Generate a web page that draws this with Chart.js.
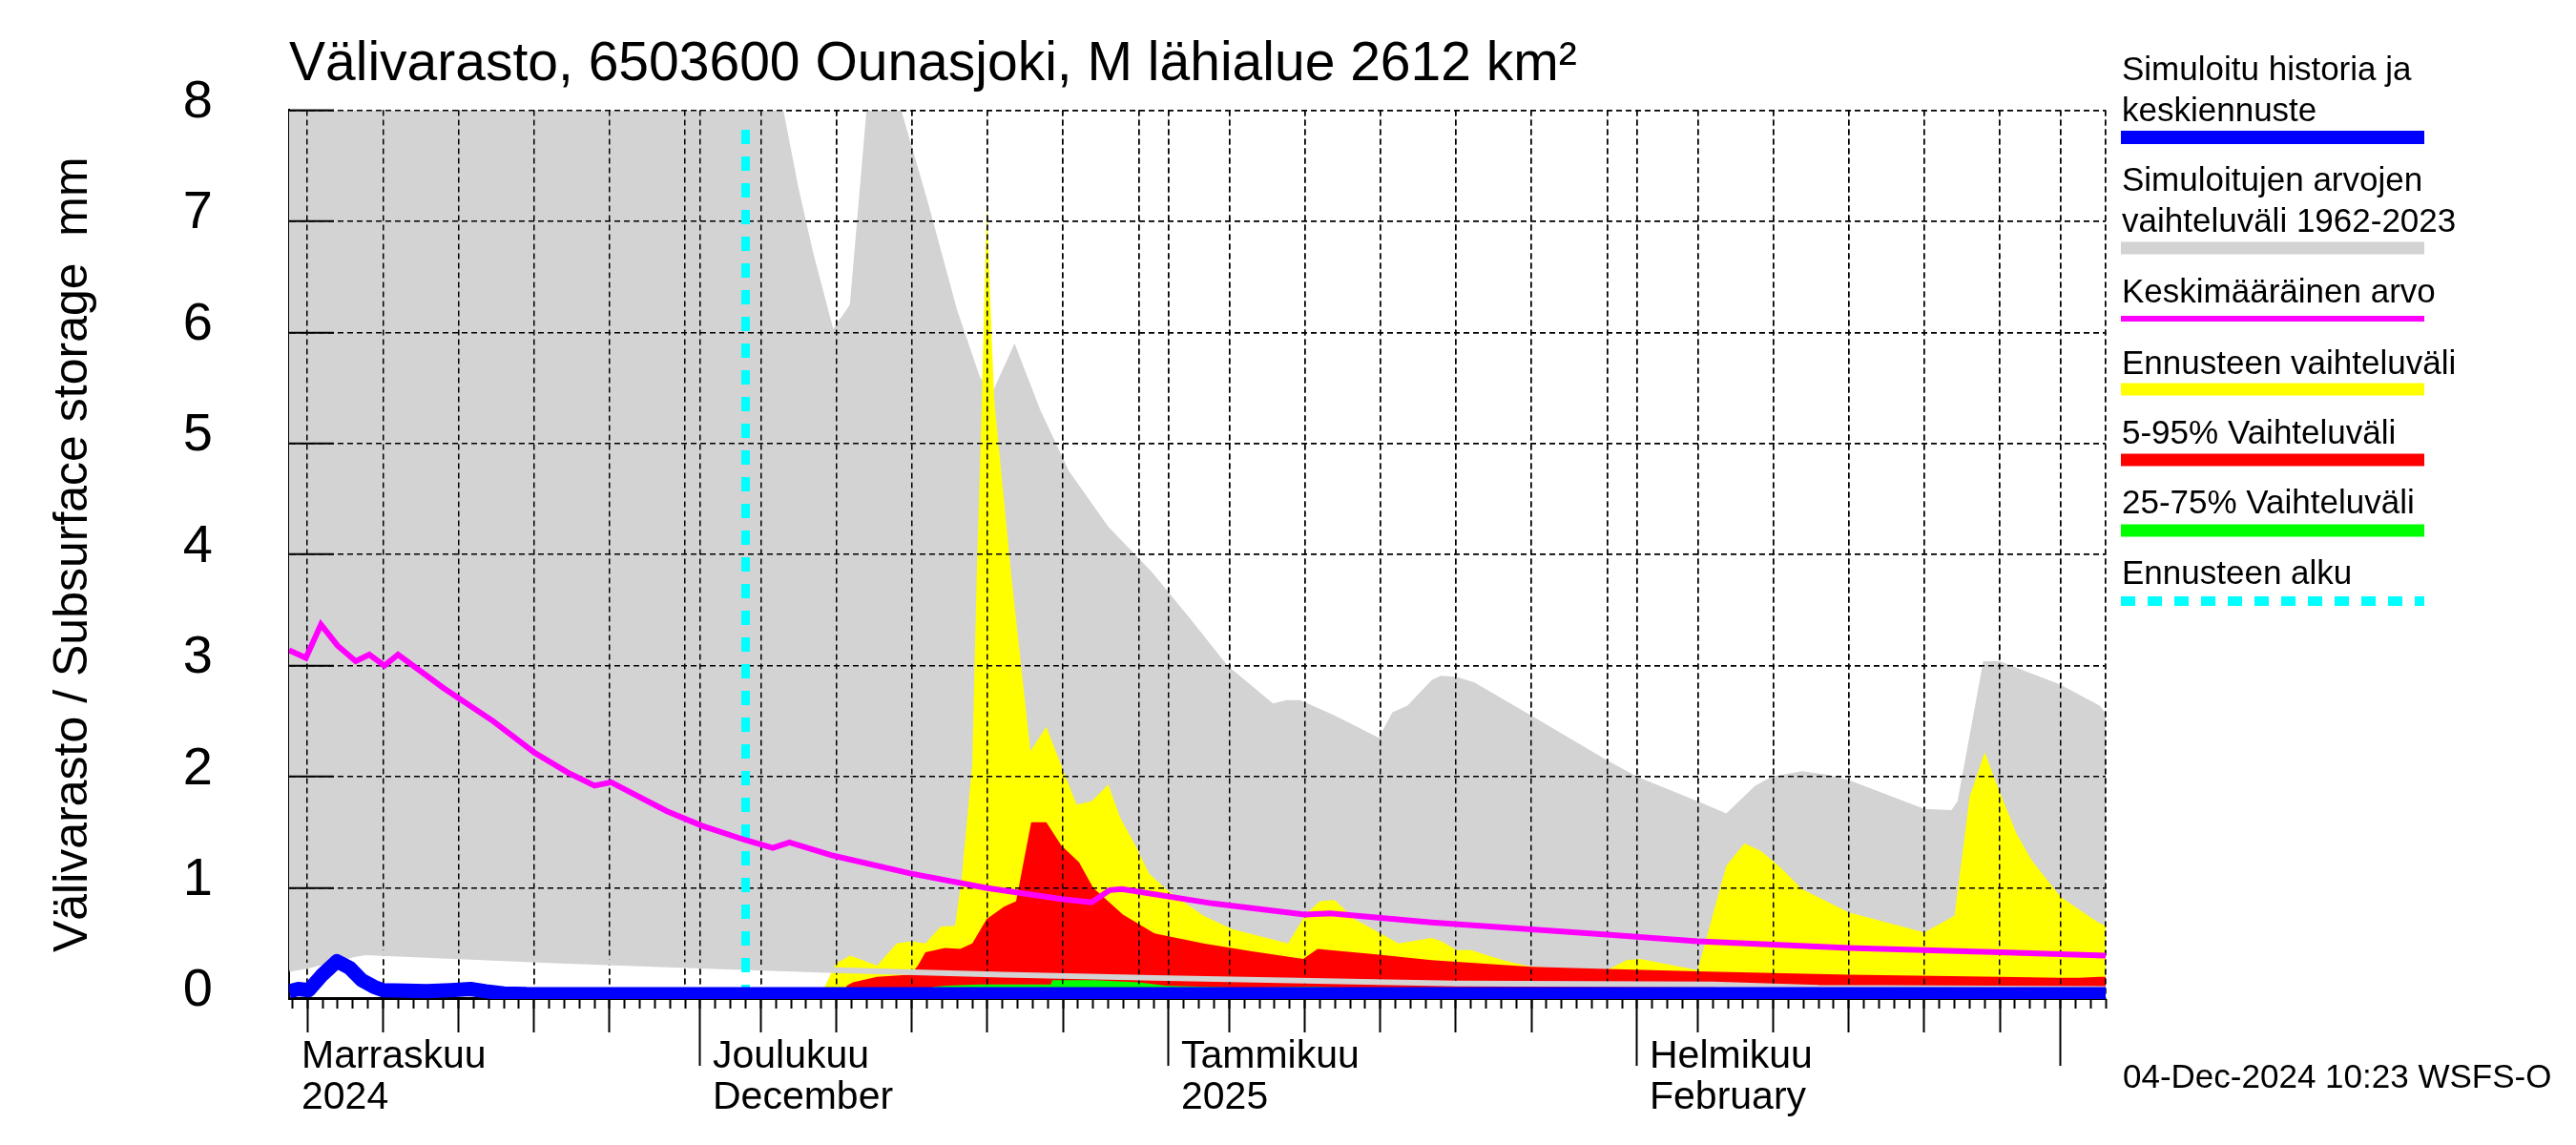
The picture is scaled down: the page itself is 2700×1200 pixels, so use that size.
<!DOCTYPE html>
<html>
<head>
<meta charset="utf-8">
<script src="https://cdn.jsdelivr.net/npm/chart.js@4.4.0/dist/chart.umd.min.js"></script>
<style>
body{margin:0;background:#fff}
canvas{display:block}
</style>
</head>
<body>
<canvas id="kaavio" width="2700" height="1200"></canvas>
<script>
// x = päiviä 1.11.2024 alusta (0 = 1. marraskuuta)
const xMin = 2.79, xMax = 123
const kuunAlut = [30, 61, 92, 120]
const ruudukko = [4,9,14,19,24,29,30,34,39,44,49,54,59,61,65,70,75,80,85,90,92,96,101,106,111,116,120,123]
const keskiTikit = [4,9,14,19,24,34,39,44,49,54,65,70,75,80,85,96,101,106,111,116]
const kuuTekstiX = [2.79, 30, 61, 92]
const kuuTekstit = [['Marraskuu','2024'],['Joulukuu','December'],['Tammikuu','2025'],['Helmikuu','February']]

const harmaaYlaX = [2.79,35.5,36.5,37.5,38.8,39.9,41.0,42.0,43.3,45.0,47.0,48.5,49.3,50.8,52.5,54.4,57.0,59.9,62.5,64.9,67.9,68.8,69.7,72.0,74.9,75.8,76.8,78.4,79.0,80.0,81.2,85.0,90.0,92.0,96.0,97.9,99.8,100.9,102.9,104.5,106.0,111.0,112.8,113.2,114.9,116.0,120.0,122.6,123]
const harmaaYlaY = [9,8.0,7.3,6.7,6.03,6.25,8.0,8.5,8.0,7.2,6.2,5.6,5.45,5.9,5.3,4.75,4.25,3.84,3.41,3.0,2.66,2.69,2.69,2.55,2.35,2.58,2.64,2.87,2.91,2.90,2.85,2.55,2.15,2.0,1.78,1.67,1.92,2.0,2.05,2.02,1.97,1.71,1.70,1.78,3.04,3.04,2.83,2.64,2.57]
const harmaaAlaX = [2.79,4,5.5,7,7.8,20,30,38.9,50,60,80,97,104,123]
const harmaaAlaY = [0.27,0.30,0.35,0.40,0.42,0.35,0.30,0.26,0.22,0.19,0.14,0.13,0.10,0.09]

const keltYlaX = [38.05,38.2,38.97,39.93,41.7,43.0,43.96,44.9,45.9,46.86,47.3,48.0,48.3,48.6,48.95,49.45,50.56,51.85,52.9,54.9,55.9,57.0,57.8,58.8,59.7,60.9,63.3,65.2,68.9,70.05,71.0,71.98,73.3,74.9,76.2,78.4,79.05,80.05,81.0,83.1,85.0,90.0,91.3,92.2,96.0,97.9,99.1,100.2,101.5,102.9,106.0,111.0,113.0,114.0,115.0,116.0,117.1,118.1,120.0,122.5,123]
const keltYlaY = [0.05,0.10,0.32,0.39,0.30,0.50,0.52,0.50,0.65,0.66,1.09,2.12,3.84,5.2,7.14,5.4,3.84,2.23,2.45,1.75,1.78,1.93,1.63,1.38,1.13,0.98,0.75,0.63,0.50,0.76,0.88,0.89,0.72,0.60,0.50,0.55,0.52,0.44,0.44,0.35,0.29,0.26,0.35,0.36,0.26,1.20,1.40,1.33,1.18,0.99,0.78,0.60,0.75,1.82,2.22,1.86,1.49,1.25,0.92,0.69,0.66]
const keltAlaX = [38.05,123]
const keltAlaY = [0.05,0.05]

const punYlaX = [39.5,39.7,40.1,41.7,43.9,44.4,44.9,46.2,47.2,48.0,48.95,50.1,50.9,51.0,51.9,52.9,53.9,55.07,56.0,57.97,60.06,63.3,66.5,69.9,70.85,74.9,78.4,85,90,96,106,116,120,121.2,122.6,123]
const punYlaY = [0.05,0.12,0.15,0.20,0.22,0.30,0.42,0.46,0.45,0.50,0.72,0.83,0.88,0.95,1.59,1.59,1.38,1.23,1.00,0.76,0.59,0.50,0.43,0.36,0.45,0.40,0.35,0.29,0.27,0.25,0.22,0.20,0.19,0.19,0.20,0.20]
const punAlaX = [39.5,123]
const punAlaY = [0.05,0.05]

const vihrYlaX = [45.0,45.4,46.3,48.5,53.2,53.3,56.1,59.0,60.8,65.8,70.6,72.9,74.0]
const vihrYlaY = [0.05,0.11,0.12,0.13,0.13,0.17,0.17,0.15,0.12,0.10,0.11,0.10,0.05]
const vihrAlaX = [45.0,74.0]
const vihrAlaY = [0.05,0.05]

const keskiX = [2.79,3.9,4.9,6.0,7.2,8.1,9.1,10.0,13.0,16.3,19.0,21.2,23.0,24.1,27.8,30.1,33.0,34.8,35.9,38.8,43.9,48.9,53.9,55.9,57.1,57.9,63.9,70.0,71.7,78.4,90,96,106,116,123]
const keskiY = [3.14,3.07,3.37,3.18,3.04,3.10,3.00,3.10,2.80,2.50,2.22,2.04,1.92,1.95,1.69,1.56,1.43,1.36,1.41,1.29,1.13,1.00,0.90,0.87,0.98,0.99,0.86,0.76,0.77,0.69,0.58,0.52,0.46,0.42,0.39]

const simX = [2.79,3.4,4.1,5.0,5.95,6.8,7.6,8.4,9.0,10.5,11.9,13.5,14.8,15.8,17.0,18.5,123]
const simY = [0.07,0.09,0.08,0.22,0.34,0.28,0.17,0.11,0.08,0.075,0.07,0.08,0.09,0.07,0.05,0.045,0.043]

const havX = [2.79,19.6]
const havY = [0,0]

const alkuX = [33,33]
const alkuY = [0,7.9]

const selitteet = [
    {rivit:['Simuloitu historia ja','keskiennuste'], vari:'#0000ff'},
    {rivit:['Simuloitujen arvojen','vaihteluväli 1962-2023'], vari:'#d3d3d3'},
    {rivit:['Keskimääräinen arvo'], vari:'#ff00ff'},
    {rivit:['Ennusteen vaihteluväli'], vari:'#ffff00'},
    {rivit:['5-95% Vaihteluväli'], vari:'#ff0000'},
    {rivit:['25-75% Vaihteluväli'], vari:'#00ff00'},
    {rivit:['Ennusteen alku'], vari:'#00ffff'}
]

const pts = (xs, ys) => xs.map((x, i) => ({x: x, y: ys[i]}))
const paivaTikit = []
for (let d = Math.ceil(xMin); d <= xMax; d++) paivaTikit.push(d)

Chart.defaults.font.family = '"Liberation Sans", Arial, sans-serif'
Chart.defaults.color = '#000'
Chart.defaults.elements.point.radius = 0

const ei = 'rgba(0,0,0,0)'

// ruudukko piirretään uudelleen vaihteluvälien päälle
const ruudukkoPaalle = {
    id: 'ruudukkoPaalle',
    beforeDatasetDraw(chart, args) {
        if (args.index !== 1) return
        chart.scales.x.drawGrid(chart.chartArea)
        chart.scales.y.drawGrid(chart.chartArea)
    }
}

const selite = {
    id: 'selite',
    afterDraw(chart) {
        const c = chart.ctx
        const rivit = [[84,127],[200,243],[317],[392],[465],[538],[612]]
        const viivat = [144,260,334,408,482,556,630]
        const leveydet = [14,13,6,13,13,13,10]
        c.save()
        c.font = '35px "Liberation Sans", Arial, sans-serif'
        c.fillStyle = '#000'
        c.textBaseline = 'alphabetic'
        c.textAlign = 'left'
        selitteet.forEach((s, i) => {
            s.rivit.forEach((r, j) => c.fillText(r, 2224, rivit[i][j]))
            c.beginPath()
            c.strokeStyle = s.vari
            c.lineWidth = leveydet[i]
            c.setLineDash(i === 6 ? [15,13] : [])
            c.moveTo(2223, viivat[i])
            c.lineTo(2541, viivat[i])
            c.stroke()
        })
        c.setLineDash([])
        c.fillText('04-Dec-2024 10:23 WSFS-O', 2225, 1140)
        c.restore()
    }
}

const eiReunoja = s => { s.paddingTop = 0; s.paddingBottom = 0; s.paddingLeft = 0; s.paddingRight = 0 }

const tikkiAkseli = (arvot, pituus) => ({
    type: 'linear', min: xMin, max: xMax, position: {y: 0},
    afterBuildTicks: s => { s.ticks = arvot.map(v => ({value: v})) },
    ticks: {display: false, autoSkip: false},
    grid: {drawOnChartArea: false, tickLength: pituus, tickColor: '#000', tickWidth: 2, color: '#000'},
    border: {display: false},
    afterFit: eiReunoja
})

new Chart(document.getElementById('kaavio'), {
    type: 'line',
    data: {
        datasets: [
            {data: pts(harmaaYlaX, harmaaYlaY), fill: 1, backgroundColor: '#d3d3d3', borderColor: ei, borderWidth: 0, order: 100},
            {data: pts(harmaaAlaX, harmaaAlaY), fill: false, borderColor: '#d3d3d3', borderWidth: 6, order: 60},
            {data: pts(keltYlaX, keltYlaY), fill: 3, backgroundColor: '#ffff00', borderColor: ei, borderWidth: 0, order: 90},
            {data: pts(keltAlaX, keltAlaY), fill: false, borderColor: ei, borderWidth: 0, order: 91},
            {data: pts(punYlaX, punYlaY), fill: 5, backgroundColor: '#ff0000', borderColor: ei, borderWidth: 0, order: 80},
            {data: pts(punAlaX, punAlaY), fill: false, borderColor: ei, borderWidth: 0, order: 81},
            {data: pts(vihrYlaX, vihrYlaY), fill: 7, backgroundColor: '#00ff00', borderColor: ei, borderWidth: 0, order: 70},
            {data: pts(vihrAlaX, vihrAlaY), fill: false, borderColor: ei, borderWidth: 0, order: 71},
            {data: pts(havX, havY), fill: false, borderColor: '#000', borderWidth: 4, order: 56},
            {data: pts(alkuX, alkuY), fill: false, borderColor: '#00ffff', borderWidth: 9, borderDash: [15,13], borderCapStyle: 'butt', order: 55},
            {data: pts(keskiX, keskiY), fill: false, borderColor: '#ff00ff', borderWidth: 6, order: 50},
            {data: pts(simX, simY), fill: false, borderColor: '#0000ff', borderWidth: 15, borderJoinStyle: 'round', order: 40}
        ]
    },
    options: {
        responsive: false,
        animation: false,
        devicePixelRatio: 1,
        layout: {padding: {left: 0, right: 493, top: 0, bottom: 0}},
        plugins: {
            legend: {display: false},
            tooltip: {enabled: false},
            title: {
                display: true,
                text: 'Välivarasto, 6503600 Ounasjoki, M lähialue 2612 km²',
                align: 'start',
                fullSize: false,
                color: '#000',
                font: {size: 57, weight: 'normal'},
                padding: {top: 34, bottom: 13}
            }
        },
        scales: {
            x: {
                type: 'linear', min: xMin, max: xMax, position: 'bottom', weight: 0,
                afterBuildTicks: s => { s.ticks = ruudukko.map(v => ({value: v})) },
                ticks: {display: false, autoSkip: false},
                grid: {color: '#000', lineWidth: 1.5, drawTicks: false},
                border: {display: true, color: '#000', width: 2, dash: [6,4]},
                afterFit: s => { eiReunoja(s); s.height = 0 }
            },
            xk: {
                type: 'linear', min: xMin, max: xMax, position: 'bottom', weight: 1,
                afterBuildTicks: s => { s.ticks = kuuTekstiX.map(v => ({value: v})) },
                ticks: {
                    autoSkip: false, maxRotation: 0, minRotation: 0, align: 'start',
                    labelOffset: 13, padding: 39,
                    font: {size: 41, lineHeight: 1.05},
                    callback: (v, i) => kuuTekstit[i]
                },
                grid: {display: false, drawTicks: false},
                border: {display: false},
                afterFit: s => { eiReunoja(s); s.height = 153 }
            },
            xp: tikkiAkseli(paivaTikit, 10),
            xm: tikkiAkseli(keskiTikit, 35),
            xo: tikkiAkseli(kuunAlut, 70),
            y: {
                min: 0, max: 8,
                ticks: {stepSize: 1, font: {size: 56}, padding: 127, labelOffset: -8},
                grid: {color: '#000', lineWidth: 1.5, tickLength: -47, tickColor: '#000', tickWidth: 2, tickBorderDash: []},
                border: {display: true, color: '#000', width: 2, dash: [6,4]},
                title: {display: true, text: 'Välivarasto / Subsurface storage  mm', font: {size: 50}, padding: {top: 47, bottom: 0}},
                afterFit: s => { eiReunoja(s); s.width = 303 }
            }
        }
    },
    plugins: [ruudukkoPaalle, selite]
})
</script>
</body>
</html>
